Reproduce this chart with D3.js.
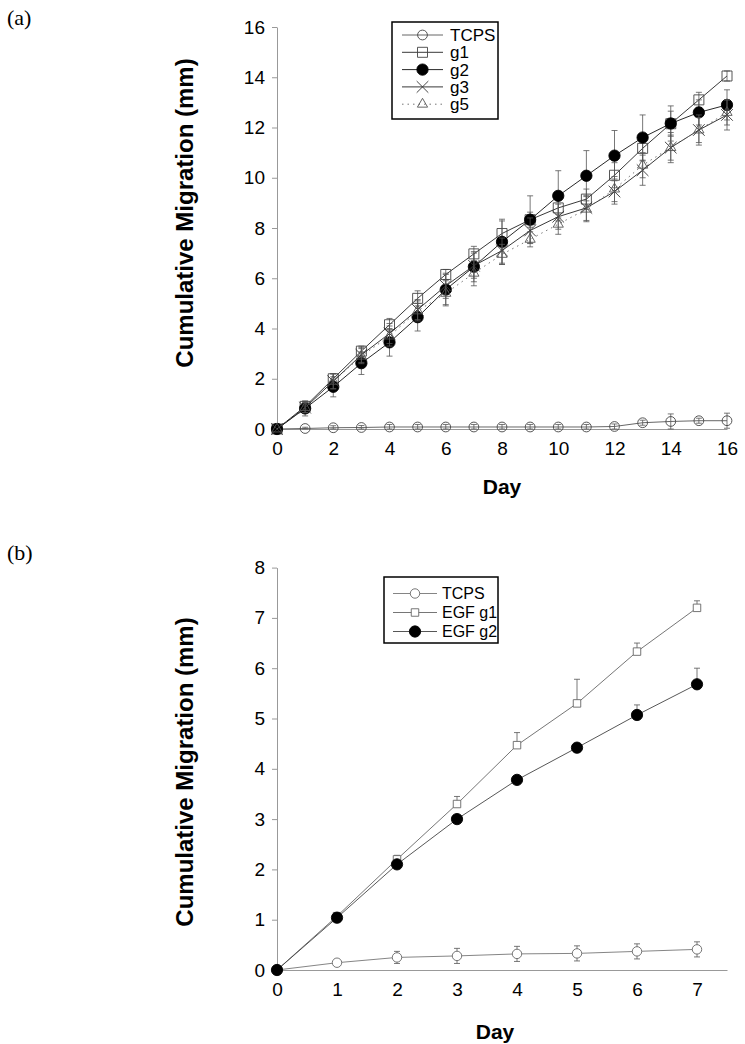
<!DOCTYPE html>
<html>
<head>
<meta charset="utf-8">
<script src="https://cdn.jsdelivr.net/npm/d3@7"></script>
<style>
  body { margin: 0; background: #fff; }
  svg { font-family: "Liberation Sans", Arial, sans-serif; }
</style>
</head>
<body>
<div id="chart"></div>
<script>
// ---- data ----
var daysA = d3.range(0, 17);
var tcpsA  = [0, 0.02, 0.05, 0.06, 0.08, 0.08, 0.08, 0.08, 0.08, 0.08, 0.08, 0.08, 0.1, 0.25, 0.3, 0.33, 0.33];
var tcpsAErr = [0, 0.05, 0.08, 0.08, 0.1, 0.1, 0.1, 0.1, 0.1, 0.1, 0.1, 0.1, 0.1, 0.1, 0.3, 0.1, 0.3];
var g1A    = [0, 0.9, 2.0, 3.1, 4.15, 5.2, 6.15, 6.97, 7.78, 8.33, 8.8, 9.15, 10.1, 11.17, 12.15, 13.1, 14.05];
var g1AErr = [0, 0.2, 0.2, 0.2, 0.25, 0.3, 0.2, 0.3, 0.5, 0.3, 0.4, 0.4, 0.5, 0.5, 0.5, 0.3, 0.2];
var g2A    = [0, 0.82, 1.68, 2.62, 3.45, 4.45, 5.55, 6.46, 7.45, 8.33, 9.28, 10.08, 10.88, 11.6, 12.16, 12.6, 12.9];
var g2AErr = [0, 0.3, 0.4, 0.45, 0.55, 0.55, 0.6, 0.6, 0.9, 0.95, 1.0, 1.0, 1.0, 0.9, 0.7, 0.5, 0.6];
var g3A    = [0, 0.85, 1.9, 2.95, 3.8, 4.75, 5.7, 6.5, 7.1, 7.9, 8.45, 8.8, 9.45, 10.3, 11.2, 11.9, 12.5];
var g3AErr = [0, 0.2, 0.3, 0.3, 0.4, 0.4, 0.5, 0.5, 0.5, 0.5, 0.5, 0.5, 0.5, 0.6, 0.6, 0.6, 0.6];
var g5A    = [0, 0.85, 1.9, 2.9, 3.7, 4.7, 5.4, 6.2, 6.95, 7.55, 8.15, 8.75, 9.55, 10.5, 11.2, 11.9, 12.6];
var g5AErr = [0, 0.2, 0.3, 0.3, 0.4, 0.4, 0.5, 0.5, 0.4, 0.3, 0.4, 0.5, 0.5, 0.5, 0.5, 0.5, 0.5];

var daysB = d3.range(0, 8);
var tcpsB  = [0, 0.145, 0.25, 0.28, 0.32, 0.33, 0.37, 0.41];
var tcpsBErr = [0, 0.05, 0.12, 0.15, 0.15, 0.15, 0.15, 0.15];
var g1B    = [0, 1.07, 2.2, 3.3, 4.47, 5.3, 6.33, 7.2];
var g1BErr = [0, 0.05, 0.08, 0.15, 0.25, 0.48, 0.17, 0.14];
var g2B    = [0, 1.04, 2.1, 3.0, 3.78, 4.42, 5.07, 5.68];
var g2BErr = [0, 0.03, 0.05, 0.05, 0.05, 0.05, 0.2, 0.32];

var yTicksA = d3.range(0, 17, 2);
var xTicksA = d3.range(0, 17, 2);
var yTicksB = d3.range(0, 9, 1);
var xTicksB = d3.range(0, 8, 1);

var svg = d3.select("#chart").append("svg")
    .attr("width", 745)
    .attr("height", 1044);

function drawPanel(p) {
    var x = d3.scaleLinear().domain(p.xDomain).range([277, 727]);
    var y = d3.scaleLinear().domain(p.yDomain).range(p.yRange);
    var g = svg.append("g");

    // axes
    var xAxis = g.append("g")
        .attr("transform", `translate(0,${p.yRange[0]})`)
        .call(d3.axisBottom(x).tickValues(p.xTicks).tickSize(0).tickPadding(13));
    var yAxis = g.append("g")
        .attr("transform", "translate(277,0)")
        .call(d3.axisLeft(y).tickValues(p.yTicks).tickSize(5).tickSizeOuter(0).tickPadding(7));
    [xAxis, yAxis].forEach(function(a) {
        a.select(".domain").attr("stroke", "#999");
        a.selectAll(".tick line").attr("stroke", "#999");
        a.selectAll("text").attr("font-size", "19px").attr("fill", "#000")
            .attr("font-family", "Liberation Sans, Arial, sans-serif");
    });

    // series
    p.series.forEach(function(s) {
        var pts = p.days.map(function(d, i) { return { d: d, v: s.values[i], e: s.err[i] }; });
        var sg = g.append("g");
        sg.append("path")
            .datum(pts)
            .attr("fill", "none")
            .attr("stroke", s.line)
            .attr("stroke-width", 0.9)
            .attr("stroke-dasharray", s.dash || null)
            .attr("d", d3.line().x(d => x(d.d)).y(d => y(d.v)));

        // error bars
        var eb = sg.selectAll(".eb").data(pts.filter(d => d.e > 0)).enter().append("g")
            .attr("stroke", "#555").attr("stroke-width", 0.8);
        eb.append("line")
            .attr("x1", d => x(d.d)).attr("x2", d => x(d.d))
            .attr("y1", d => y(d.v + d.e))
            .attr("y2", d => s.upOnly ? y(d.v) : y(Math.max(0, d.v - d.e)));
        eb.append("line")
            .attr("x1", d => x(d.d) - 3).attr("x2", d => x(d.d) + 3)
            .attr("y1", d => y(d.v + d.e)).attr("y2", d => y(d.v + d.e));
        if (!s.upOnly) {
            eb.append("line")
                .attr("x1", d => x(d.d) - 3).attr("x2", d => x(d.d) + 3)
                .attr("y1", d => y(Math.max(0, d.v - d.e))).attr("y2", d => y(Math.max(0, d.v - d.e)));
        }

        sg.selectAll(".m").data(pts).enter().append("path")
            .attr("transform", d => `translate(${x(d.d)},${y(d.v)})`)
            .attr("d", d3.symbol().type(s.symbol).size(s.size))
            .attr("fill", s.fill)
            .attr("stroke", s.stroke)
            .attr("stroke-width", 0.9);
    });

    // axis titles
    g.append("text")
        .attr("transform", `translate(${p.yTitleX},${p.yTitleY}) rotate(-90)`)
        .attr("text-anchor", "middle")
        .attr("font-weight", "bold")
        .attr("font-size", "24px")
        .text("Cumulative Migration (mm)");
    g.append("text")
        .attr("x", p.dayX).attr("y", p.dayY)
        .attr("text-anchor", "middle")
        .attr("font-weight", "bold")
        .attr("font-size", "21px")
        .text("Day");

    // panel label
    g.append("text")
        .attr("x", 7).attr("y", p.labelY)
        .attr("font-family", "Liberation Serif, Times New Roman, serif")
        .attr("font-size", "22px")
        .text(p.label);

    // legend
    var L = p.legend;
    var lg = g.append("g");
    lg.append("rect")
        .attr("x", L.x).attr("y", L.y).attr("width", L.w).attr("height", L.h)
        .attr("fill", "#fff").attr("stroke", "#000").attr("stroke-width", 1.5);
    p.series.forEach(function(s, i) {
        var yy = L.y + L.first + i * L.step;
        lg.append("line")
            .attr("x1", L.x + L.lx1).attr("x2", L.x + L.lx2)
            .attr("y1", yy).attr("y2", yy)
            .attr("stroke", s.line).attr("stroke-width", 0.9)
            .attr("stroke-dasharray", s.dash || null);
        lg.append("path")
            .attr("transform", `translate(${L.x + (L.lx1 + L.lx2) / 2},${yy})`)
            .attr("d", d3.symbol().type(s.symbol).size(s.size))
            .attr("fill", s.fill).attr("stroke", s.stroke).attr("stroke-width", 0.9);
        lg.append("text")
            .attr("x", L.x + L.tx).attr("y", yy).attr("dy", "0.35em")
            .attr("font-size", L.font)
            .text(s.name);
    });
}

var panelA = {
    label: "(a)", labelY: 25,
    days: daysA, xDomain: [0, 16], yDomain: [0, 16], yRange: [429, 27],
    xTicks: xTicksA, yTicks: yTicksA,
    yTitleX: 193, yTitleY: 213, dayX: 502, dayY: 494,
    legend: { x: 392, y: 22, w: 106, h: 97, first: 13, step: 17.3, lx1: 10, lx2: 51, tx: 58, font: "17px" },
    series: [
        { name: "TCPS", values: tcpsA, err: tcpsAErr, symbol: d3.symbolCircle, size: 75, fill: "none", stroke: "#444", line: "#555" },
        { name: "g1", values: g1A, err: g1AErr, symbol: d3.symbolSquare, size: 100, fill: "none", stroke: "#444", line: "#222" },
        { name: "g2", values: g2A, err: g2AErr, symbol: d3.symbolCircle, size: 100, fill: "#000", stroke: "#000", line: "#111" },
        { name: "g3", values: g3A, err: g3AErr, symbol: d3.symbolX, size: 90, fill: "none", stroke: "#333", line: "#222" },
        { name: "g5", values: g5A, err: g5AErr, symbol: d3.symbolTriangle, size: 45, fill: "none", stroke: "#555", line: "#666", dash: "1.5,4" }
    ]
};

var panelB = {
    label: "(b)", labelY: 560,
    days: daysB, xDomain: [0, 7.5], yDomain: [0, 8], yRange: [970, 567.6],
    xTicks: xTicksB, yTicks: yTicksB,
    yTitleX: 193, yTitleY: 772, dayX: 495, dayY: 1039,
    legend: { x: 384, y: 577, w: 114, h: 66, first: 16.5, step: 19, lx1: 9, lx2: 53, tx: 58, font: "16px" },
    series: [
        { name: "TCPS", values: tcpsB, err: tcpsBErr, symbol: d3.symbolCircle, size: 70, fill: "#fff", stroke: "#666", line: "#777" },
        { name: "EGF g1", values: g1B, err: g1BErr, symbol: d3.symbolSquare, size: 56, fill: "#fff", stroke: "#666", line: "#666", upOnly: true },
        { name: "EGF g2", values: g2B, err: g2BErr, symbol: d3.symbolCircle, size: 100, fill: "#000", stroke: "#000", line: "#444", upOnly: true }
    ]
};

drawPanel(panelA);
drawPanel(panelB);
</script>
</body>
</html>
